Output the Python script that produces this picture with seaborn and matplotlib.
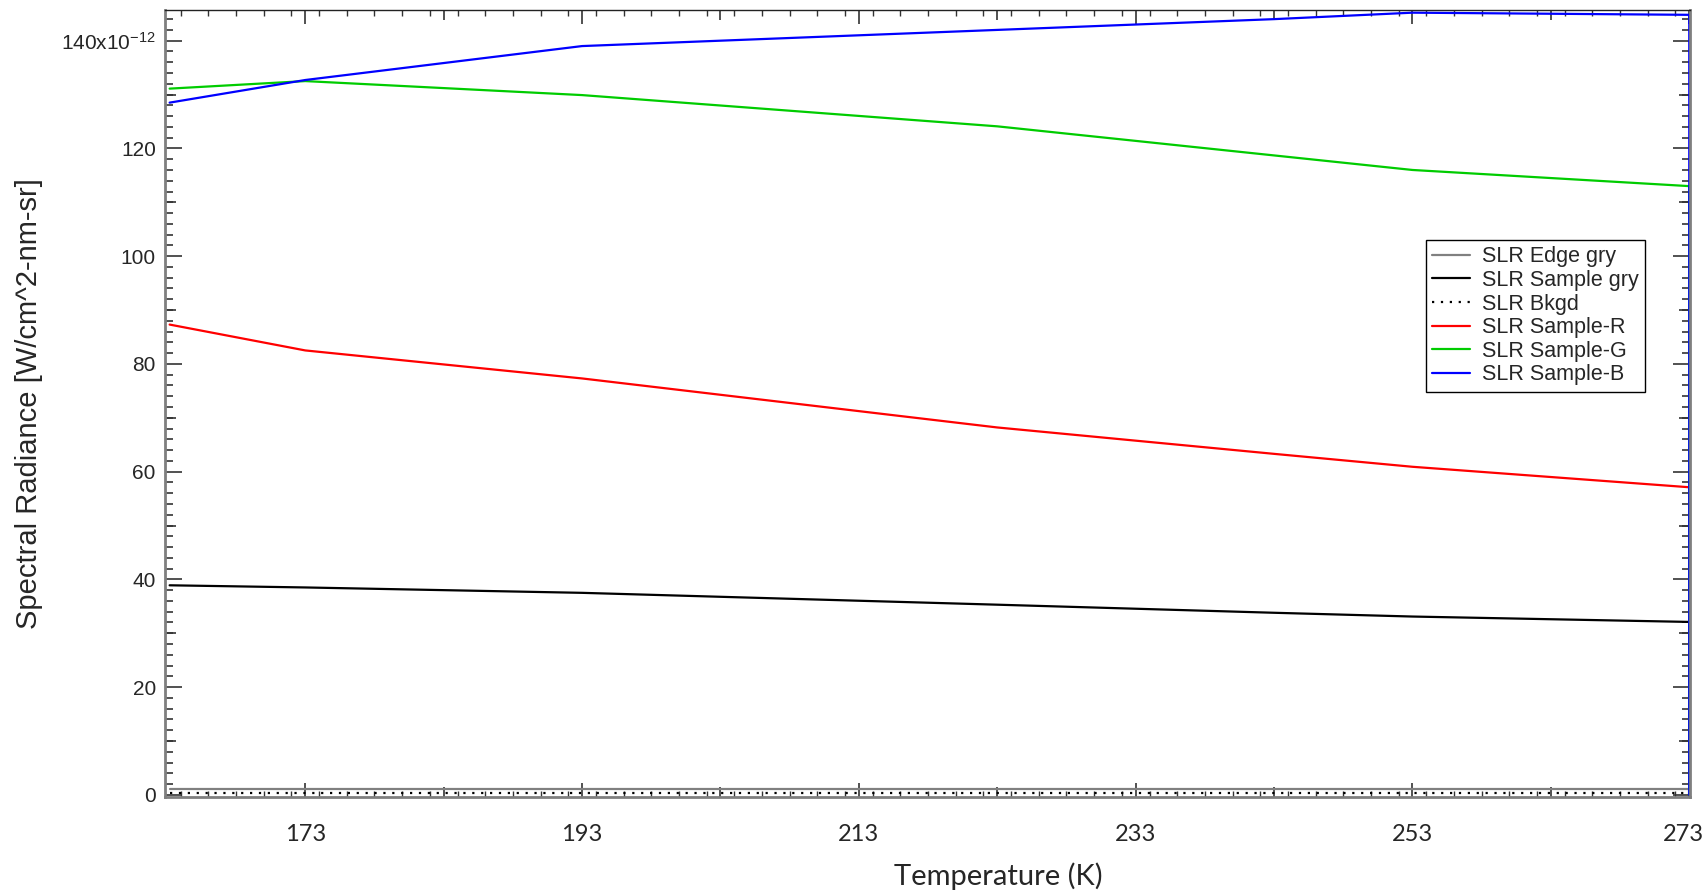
import matplotlib
matplotlib.use("Agg")
import matplotlib.pyplot as plt
import matplotlib.transforms as mtransforms
import seaborn as sns
import numpy as np
from matplotlib.ticker import MultipleLocator, FuncFormatter, FixedLocator

# ---- data ----
temperature = [163.2, 173, 193, 223, 243, 253, 273, 273]
edge_gry    = [1.0, 1.0, 1.0, 1.0, 1.0, 1.0, 1.0, 0.0]
sample_gry  = [38.9, 38.5, 37.5, 35.3, 33.8, 33.1, 32.1, 0.0]
bkgd        = [0.25, 0.25, 0.25, 0.25, 0.25, 0.25, 0.25, 0.0]
sample_r    = [87.3, 82.5, 77.3, 68.2, 63.3, 60.9, 57.1, 0.0]
sample_g    = [131.1, 132.5, 129.9, 124.1, 118.7, 116.0, 113.0, 0.0]
sample_b    = [128.5, 132.7, 139.0, 142.0, 144.0, 145.2, 144.8, 0.0]

series_names = ["SLR Edge gry", "SLR Sample gry", "SLR Bkgd",
                "SLR Sample-R", "SLR Sample-G", "SLR Sample-B"]
series_vals = [edge_gry, sample_gry, bkgd, sample_r, sample_g, sample_b]
series_colors = ["#808080", "#000000", "#000000", "#ff0000", "#00cc00", "#0000ff"]
series_styles = ["-", "-", (0, (1, 3)), "-", "-", "-"]

x_ticks = [173, 193, 213, 233, 253, 273]
y_ticks = [0, 20, 40, 60, 80, 100, 120, 140]

sns.set_style("ticks")
plt.rcParams["font.family"] = ["Liberation Sans", "DejaVu Sans"]
plt.rcParams["mathtext.fontset"] = "custom"
plt.rcParams["mathtext.rm"] = "Liberation Sans"
plt.rcParams["mathtext.it"] = "Liberation Sans:italic"
plt.rcParams["mathtext.bf"] = "Liberation Sans:bold"

fig = plt.figure(figsize=(17.06, 8.91), dpi=100)
ax = fig.add_axes([0.097, 0.1055, 0.8936, 0.8833])

for name, vals, col, ls in zip(series_names, series_vals, series_colors, series_styles):
    sns.lineplot(x=temperature, y=vals, ax=ax, color=col, linestyle=ls,
                 linewidth=1.6, label=name, estimator=None, sort=False)

ax.set_xlim(162.9, 273.05)
ax.set_ylim(-0.4, 145.7)

ax.xaxis.set_major_locator(FixedLocator(x_ticks))
ax.xaxis.set_minor_locator(MultipleLocator(2))
ax.yaxis.set_major_locator(FixedLocator(y_ticks))
ax.yaxis.set_minor_locator(MultipleLocator(2))
ax.yaxis.set_major_formatter(FuncFormatter(
    lambda v, p: "140x10$^{-12}$" if abs(v - 140) < 1e-6 else f"{v:g}"))

ax.tick_params(axis="both", which="both", direction="in", top=True, right=True,
               color="#333333")
ax.tick_params(axis="y", which="major", length=12, width=1.2, labelsize=15, pad=7)
ax.tick_params(axis="y", which="minor", length=5.5, width=1.2)
ax.tick_params(axis="x", which="major", length=10, width=1.2, labelsize=17, pad=19.5)
ax.tick_params(axis="x", which="minor", length=4, width=1.0)

xticks_objs = ax.xaxis.get_major_ticks()
for t in xticks_objs:
    t.label1.set_family(["Lato", "DejaVu Sans"])
# Keep the last label ("273") inside the figure
last = xticks_objs[-1].label1
last.set_transform(last.get_transform() +
                   mtransforms.ScaledTranslation(-4 / 72, 0, fig.dpi_scale_trans))

# medium ticks
medium_x = [183, 203, 223, 243, 263]
medium_y = [10, 30, 50, 70, 90, 110, 130]
for loc in ["left", "right"]:
    sec = ax.secondary_yaxis(loc)
    sec.set_yticks(medium_y)
    sec.tick_params(direction="in", length=8, width=1.2, color="#333333",
                    labelleft=False, labelright=False)
    for s in sec.spines.values():
        s.set_visible(False)
for loc in ["bottom", "top"]:
    sec = ax.secondary_xaxis(loc)
    sec.set_xticks(medium_x)
    sec.tick_params(direction="in", length=7, width=1.2, color="#333333",
                    labelbottom=False, labeltop=False)
    for s in sec.spines.values():
        s.set_visible(False)

for side in ["left", "right", "bottom"]:
    ax.spines[side].set_color("#7f7f7f")
    ax.spines[side].set_linewidth(2.0)
ax.spines["top"].set_color("#222222")
ax.spines["top"].set_linewidth(1.0)

ax.set_xlabel("Temperature (K)", fontsize=21, family=["Lato", "DejaVu Sans"])
ax.xaxis.set_label_coords(0.546, -0.083)
ax.set_ylabel("Spectral Radiance [W/cm^2-nm-sr]", fontsize=21, labelpad=13)

leg = ax.legend(loc="upper left", bbox_to_anchor=(0.8268, 0.7078), borderaxespad=0,
                fontsize=15.5, frameon=True, fancybox=False, shadow=False,
                labelspacing=0.12, handlelength=1.75, handletextpad=0.55,
                borderpad=0.3)
leg.get_frame().set_edgecolor("black")
leg.get_frame().set_linewidth(1.0)
leg.get_frame().set_alpha(1)

fig.savefig("out.png", dpi=100)
